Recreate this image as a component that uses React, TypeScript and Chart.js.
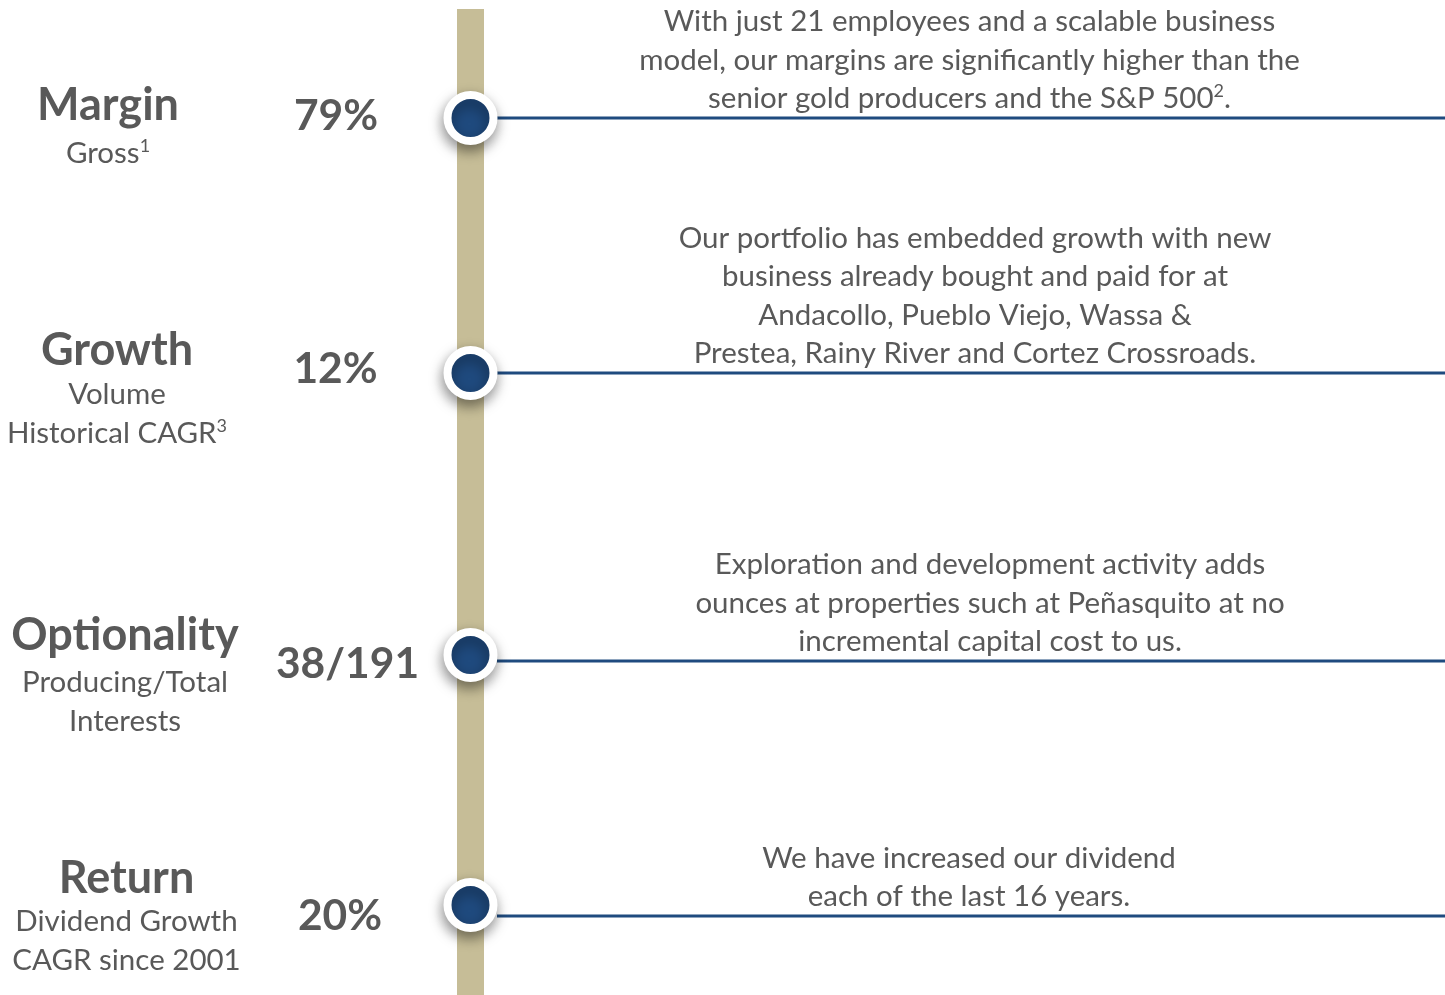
import React, { useEffect, useRef } from "react";
import { Chart, registerables } from "chart.js";

Chart.register(...registerables);

// ---- data ----
const rowNames = ["Margin", "Growth", "Optionality", "Return"];
const rowSubtitles = [
  ["Gross¹"],
  ["Volume", "Historical CAGR³"],
  ["Producing/Total", "Interests"],
  ["Dividend Growth", "CAGR since 2001"],
];
const rowValues = ["79%", "12%", "38/191", "20%"];
const rowDescriptions = [
  [
    "With just 21 employees and a scalable business",
    "model, our margins are significantly higher than the",
    "senior gold producers and the S&P 500².",
  ],
  [
    "Our portfolio has embedded growth with new",
    "business already bought and paid for at",
    "Andacollo, Pueblo Viejo, Wassa &",
    "Prestea, Rainy River and Cortez Crossroads.",
  ],
  [
    "Exploration and development activity adds",
    "ounces at properties such at Peñasquito at no",
    "incremental capital cost to us.",
  ],
  ["We have increased our dividend", "each of the last 16 years."],
];
// timeline levels (on a 0..995 vertical scale)
const markerLevels = [118, 373, 655, 905];
const connectorLevels = [118, 373, 661, 916];
const spineRange = [9, 995];

// ---- layout (not data) ----
const W = 1445;
const H = 995;
const SPINE_X = 470.5;
const CONNECTOR_START = 497;
const layout = [
  { labelX: 108, titleY: 105, subY: 152, valueX: 336, valueY: 115, descX: 969.5 },
  { labelX: 117, titleY: 350, subY: 393, valueX: 335.5, valueY: 368, descX: 975 },
  { labelX: 125, titleY: 635, subY: 681, valueX: 347.5, valueY: 663, descX: 990 },
  { labelX: 126.5, titleY: 878, subY: 920, valueX: 340, valueY: 915, descX: 969 },
];
const LINE_GAP = 38.5;
const DESC_OFFSET = 21;
const TEXT_COLOR = "#595959";
const FONT = '"Lato", "Noto Sans", sans-serif';
const TITLE_SIZE = 45;
const VALUE_SIZE = 42.5;
const BODY_SIZE = 29.5;

const SUP_MAP: Record<string, string> = { "¹": "1", "²": "2", "³": "3" };

// draws a centred line, rendering ¹²³ as raised smaller digits
function drawLine(ctx: CanvasRenderingContext2D, text: string, cx: number, cy: number, size: number, weight: string) {
  const segs: { t: string; sup: boolean }[] = [];
  for (const ch of text) {
    const sup = ch in SUP_MAP;
    const t = sup ? SUP_MAP[ch] : ch;
    const last = segs[segs.length - 1];
    if (last && last.sup === sup) last.t += t;
    else segs.push({ t, sup });
  }
  const fontFor = (sup: boolean) => `${weight} ${sup ? Math.round(size * 0.62) : size}px ${FONT}`;
  let total = 0;
  const widths = segs.map((s) => {
    ctx.font = fontFor(s.sup);
    const w = ctx.measureText(s.t).width;
    total += w;
    return w;
  });
  let x = cx - total / 2;
  ctx.textAlign = "left";
  ctx.textBaseline = "alphabetic";
  ctx.font = fontFor(false);
  const m = ctx.measureText("Hg");
  const baseline = cy + (m.actualBoundingBoxAscent - m.actualBoundingBoxDescent) / 2 + 3;
  segs.forEach((s, i) => {
    ctx.font = fontFor(s.sup);
    ctx.fillText(s.t, x, s.sup ? baseline - size * 0.36 : baseline);
    x += widths[i];
  });
}

const shadowPlugin = {
  id: "markerShadow",
  beforeDatasetDraw(chart: any, args: any) {
    const ds = chart.data.datasets[args.index];
    if (ds.label === "markers") {
      const ctx = chart.ctx;
      ctx.shadowColor = "rgba(0,0,0,0.4)";
      ctx.shadowBlur = 14;
      ctx.shadowOffsetX = -1;
      ctx.shadowOffsetY = 6;
    }
  },
  afterDatasetDraw(chart: any, args: any) {
    const ds = chart.data.datasets[args.index];
    if (ds.label === "markers") {
      const ctx = chart.ctx;
      ctx.shadowColor = "rgba(0,0,0,0)";
      ctx.shadowBlur = 0;
      ctx.shadowOffsetX = 0;
      ctx.shadowOffsetY = 0;
    }
  },
};

const textPlugin = {
  id: "timelineText",
  afterDraw(chart: any) {
    const ctx = chart.ctx;
    const xs = chart.scales.x;
    const ys = chart.scales.y;
    ctx.save();
    ctx.fillStyle = TEXT_COLOR;
    rowNames.forEach((name, i) => {
      const L = layout[i];
      const lx = xs.getPixelForValue(L.labelX);
      drawLine(ctx, name, lx, ys.getPixelForValue(L.titleY), TITLE_SIZE, "bold");
      rowSubtitles[i].forEach((s, j) => {
        drawLine(ctx, s, lx, ys.getPixelForValue(L.subY + j * LINE_GAP), BODY_SIZE, "normal");
      });
      drawLine(ctx, rowValues[i], xs.getPixelForValue(L.valueX), ys.getPixelForValue(L.valueY), VALUE_SIZE, "bold");
      const lines = rowDescriptions[i];
      const n = lines.length;
      lines.forEach((s, j) => {
        const y = connectorLevels[i] - DESC_OFFSET - (n - 1 - j) * LINE_GAP;
        drawLine(ctx, s, xs.getPixelForValue(L.descX), ys.getPixelForValue(y), BODY_SIZE, "normal");
      });
    });
    ctx.restore();
  },
};

export default function App() {
  const ref = useRef<HTMLCanvasElement | null>(null);
  useEffect(() => {
    if (!ref.current) return;
    const datasets: any[] = [
      {
        type: "line",
        label: "spine",
        data: [
          { x: SPINE_X, y: spineRange[0] },
          { x: SPINE_X, y: spineRange[1] },
        ],
        borderColor: "#c6bd97",
        borderWidth: 27,
        borderCapStyle: "butt",
        pointRadius: 0,
        order: 3,
      },
      ...connectorLevels.map((lv, i) => ({
        type: "line",
        label: "connector" + i,
        data: [
          { x: CONNECTOR_START, y: lv },
          { x: W, y: lv },
        ],
        borderColor: "#1f4b7f",
        borderWidth: 3,
        pointRadius: 0,
        order: 2,
      })),
      {
        type: "scatter",
        label: "markers",
        data: markerLevels.map((lv) => ({ x: SPINE_X, y: lv })),
        pointRadius: 23,
        pointHoverRadius: 23,
        pointBorderWidth: 8,
        pointBackgroundColor: "#1f4a7e",
        pointBorderColor: "#ffffff",
        order: 1,
      },
    ];
    const chart = new Chart(ref.current, {
      type: "scatter",
      data: { datasets },
      options: {
        animation: false,
        responsive: false,
        maintainAspectRatio: false,
        devicePixelRatio: 1,
        events: [],
        layout: { padding: 0, autoPadding: false },
        scales: {
          x: { type: "linear", min: 0, max: W, display: false },
          y: { type: "linear", min: 0, max: H, reverse: true, display: false },
        },
        plugins: { legend: { display: false }, tooltip: { enabled: false } },
      },
      plugins: [shadowPlugin, textPlugin],
    } as any);
    return () => chart.destroy();
  }, []);
  return (
    <div style={{ position: "fixed", left: 0, top: 0, width: W, height: H, background: "#ffffff" }}>
      <canvas ref={ref} width={W} height={H} style={{ width: W, height: H, display: "block" }} />
    </div>
  );
}
